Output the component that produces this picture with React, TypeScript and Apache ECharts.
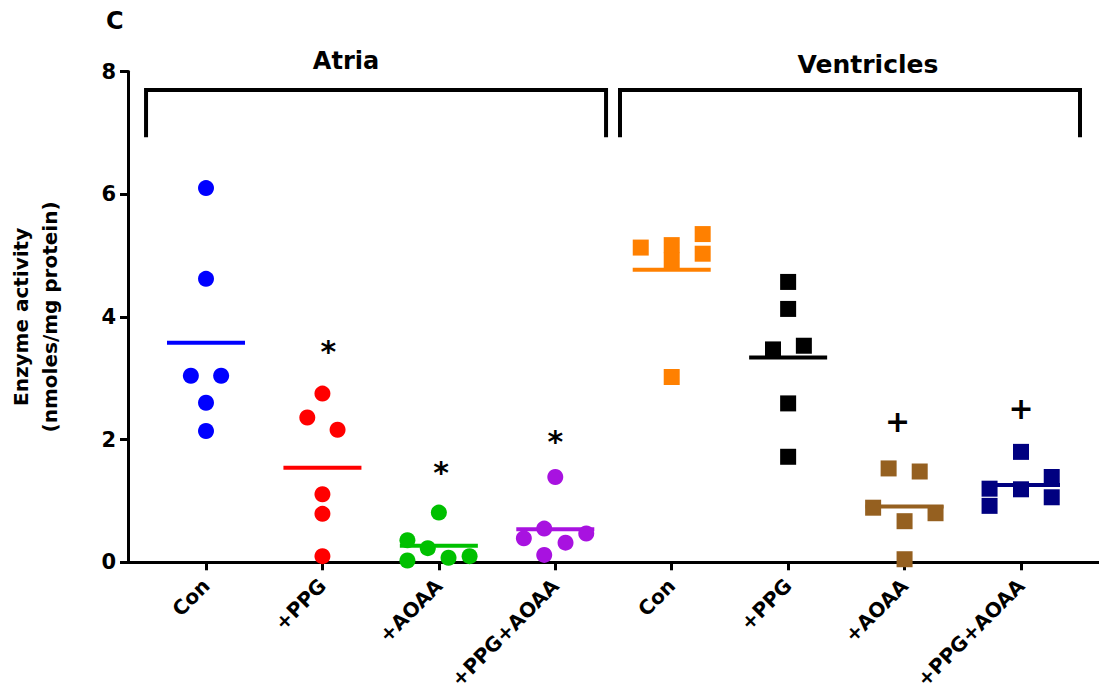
import React, { useEffect, useRef } from "react";
import * as echarts from "echarts";

const categories = ["Con", "+PPG", "+AOAA", "+PPG+AOAA", "Con", "+PPG", "+AOAA", "+PPG+AOAA"];
const yTicks = [0, 2, 4, 6, 8];

// values per group (nmoles/mg protein)
const atriaCon = [6.1, 4.62, 3.04, 3.04, 2.6, 2.14];
const atriaPPG = [2.75, 2.36, 2.16, 1.11, 0.79, 0.1];
const atriaAOAA = [0.81, 0.36, 0.23, 0.03, 0.075, 0.1];
const atriaBoth = [1.39, 0.55, 0.39, 0.47, 0.32, 0.12];
const ventCon = [5.13, 5.17, 4.92, 5.35, 5.03, 3.02];
const ventPPG = [4.57, 4.13, 3.47, 3.53, 2.59, 1.72];
const ventAOAA = [1.53, 1.48, 0.89, 0.8, 0.67, 0.05];
const ventBoth = [1.8, 1.2, 0.92, 1.19, 1.39, 1.06];

// horizontal scatter offsets (in category units)
const atriaConJit = [0, 0, -0.13, 0.13, 0, 0];
const atriaPPGJit = [0, -0.13, 0.13, 0, 0, 0];
const atriaAOAAJit = [0, -0.27, -0.095, -0.27, 0.083, 0.264];
const atriaBothJit = [0, -0.095, -0.27, 0.266, 0.088, -0.095];
const ventConJit = [-0.266, 0, 0, 0.266, 0.266, 0];
const ventPPGJit = [0, 0, -0.13, 0.135, 0, 0];
const ventAOAAJit = [-0.137, 0.13, -0.27, 0.266, 0, 0];
const ventBothJit = [0, -0.27, -0.27, 0, 0.264, 0.264];

// group means (lines)
const means = [3.58, 1.54, 0.27, 0.54, 4.77, 3.34, 0.91, 1.26];

// significance marks
const sigMarks = ["", "*", "*", "*", "", "", "+", "+"];
const sigValues = [0, 3.44, 1.46, 1.97, 0, 0, 2.29, 2.5];
const sigJit = [0, 0.05, 0.02, 0, 0, 0, -0.06, 0];

// brackets
const bracketTop = 7.7;
const bracketBottom = 6.93;
const atriaBracket = [0.485, 4.436];
const ventBracket = [4.556, 8.507];

const groups = [
  { vals: atriaCon, jit: atriaConJit, color: "#0000ff", symbol: "circle" },
  { vals: atriaPPG, jit: atriaPPGJit, color: "#ff0000", symbol: "circle" },
  { vals: atriaAOAA, jit: atriaAOAAJit, color: "#00c000", symbol: "circle" },
  { vals: atriaBoth, jit: atriaBothJit, color: "#a812e0", symbol: "circle" },
  { vals: ventCon, jit: ventConJit, color: "#ff8000", symbol: "rect" },
  { vals: ventPPG, jit: ventPPGJit, color: "#000000", symbol: "rect" },
  { vals: ventAOAA, jit: ventAOAAJit, color: "#956020", symbol: "rect" },
  { vals: ventBoth, jit: ventBothJit, color: "#000080", symbol: "rect" },
];

const FONT = "DejaVu Sans";

export default function App() {
  const ref = useRef<HTMLDivElement>(null);
  useEffect(() => {
    if (!ref.current) return;
    const chart = echarts.init(ref.current, null, { renderer: "svg" });
    const series: any[] = [];
    groups.forEach((g, gi) => {
      const pos = gi + 1;
      series.push({
        type: "line",
        data: [
          [pos - 0.335, means[gi]],
          [pos + 0.335, means[gi]],
        ],
        symbol: "none",
        lineStyle: { color: g.color, width: 4 },
        z: 2,
        silent: true,
      });
      series.push({
        type: "scatter",
        data: g.vals.map((v, i) => [pos + g.jit[i], v]),
        symbol: g.symbol,
        symbolSize: 16,
        itemStyle: { color: g.color, opacity: 1 },
        z: 3,
        silent: true,
      });
    });
    series.push({
      type: "scatter",
      data: sigMarks
        .map((m, i) => ({ m, i }))
        .filter((d) => d.m !== "")
        .map((d) => ({ value: [d.i + 1 + sigJit[d.i], sigValues[d.i]], mark: d.m })),
      symbol: "rect",
      symbolSize: 1,
      itemStyle: { color: "#ffffff", opacity: 1 },
      z: 4,
      label: {
        show: true,
        position: "inside",
        formatter: (p: any) => p.data.mark,
        color: "#000000",
        opacity: 1,
        textBorderWidth: 0,
        textBorderColor: "transparent",
        fontSize: 30,
        fontWeight: "bold",
        fontFamily: FONT,
      },
      silent: true,
    });
    [atriaBracket, ventBracket].forEach((b) => {
      series.push({
        type: "line",
        data: [
          [b[0], bracketBottom],
          [b[0], bracketTop],
          [b[1], bracketTop],
          [b[1], bracketBottom],
        ],
        symbol: "none",
        lineStyle: { color: "#000", width: 4, join: "miter", cap: "butt" },
        silent: true,
      });
    });

    chart.setOption({
      animation: false,
      backgroundColor: "#ffffff",
      grid: {
        left: 128,
        right: 0,
        top: 71.5,
        bottom: 130.7,
        containLabel: false,
        outerBoundsMode: "none",
      },
      xAxis: {
        type: "value",
        min: 0.33,
        max: 8.67,
        splitLine: { show: false },
        axisLine: { show: true, onZero: false, lineStyle: { color: "#000", width: 3 } },
        axisTick: {
          show: true,
          customValues: [1, 2, 3, 4, 5, 6, 7, 8],
          length: 8,
          lineStyle: { color: "#000", width: 3 },
        },
        axisLabel: {
          customValues: [1, 2, 3, 4, 5, 6, 7, 8],
          formatter: (v: number) => categories[Math.round(v) - 1] ?? "",
          rotate: 45,
          margin: 20,
          color: "#000",
          fontSize: 20,
          fontWeight: "bold",
          fontFamily: FONT,
        },
      },
      yAxis: {
        type: "value",
        min: 0,
        max: 8,
        interval: 2,
        splitLine: { show: false },
        axisLine: { show: true, lineStyle: { color: "#000", width: 3 } },
        axisTick: { show: true, length: 8, lineStyle: { color: "#000", width: 3 } },
        axisLabel: {
          formatter: (v: number) => (yTicks.includes(v) ? String(v) : ""),
          margin: 12,
          color: "#000",
          fontSize: 21,
          fontWeight: "bold",
          fontFamily: FONT,
        },
        name: "Enzyme activity\n(nmoles/mg protein)",
        nameLocation: "middle",
        nameGap: 64,
        nameTextStyle: {
          color: "#000",
          fontSize: 20,
          fontWeight: "bold",
          fontFamily: FONT,
          lineHeight: 29,
        },
      },
      graphic: [
        {
          type: "text",
          left: 106,
          top: 9,
          style: { text: "C", fill: "#000", fontSize: 24, fontWeight: "bold", fontFamily: FONT },
        },
        {
          type: "text",
          x: 346,
          y: 61,
          style: {
            text: "Atria",
            fill: "#000",
            fontSize: 24,
            fontWeight: "bold",
            fontFamily: FONT,
            align: "center",
            verticalAlign: "middle",
          },
        },
        {
          type: "text",
          x: 868,
          y: 64,
          style: {
            text: "Ventricles",
            fill: "#000",
            fontSize: 25,
            fontWeight: "bold",
            fontFamily: FONT,
            align: "center",
            verticalAlign: "middle",
          },
        },
      ],
      series,
    });
    return () => chart.dispose();
  }, []);
  return (
    <div
      ref={ref}
      style={{ position: "absolute", left: 0, top: 0, width: 1099, height: 693, background: "#fff" }}
    />
  );
}
